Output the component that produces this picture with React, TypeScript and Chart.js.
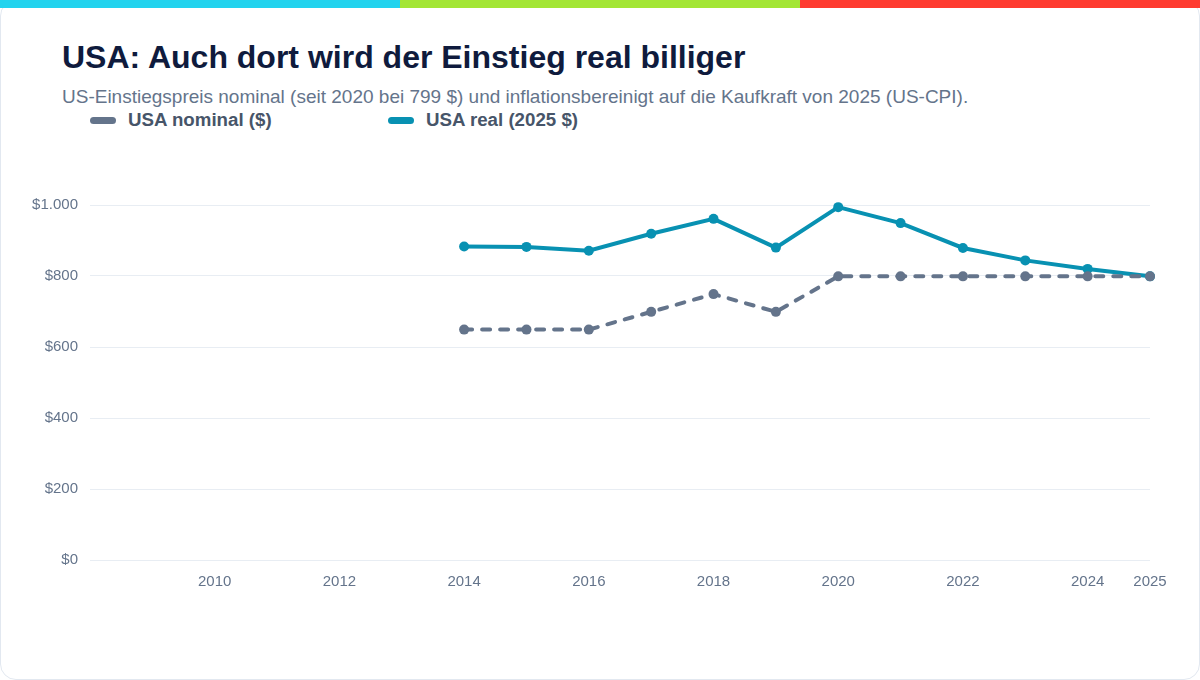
import { useEffect, useRef } from "react"
import { Chart, registerables } from "chart.js"

Chart.register(...registerables)

const years = [2014, 2015, 2016, 2017, 2018, 2019, 2020, 2021, 2022, 2023, 2024, 2025]
const nominalUsd = [649, 649, 649, 699, 749, 699, 799, 799, 799, 799, 799, 799]
const realUsd2025 = [883, 882, 871, 919, 961, 880, 994, 949, 879, 844, 820, 799]
const xTickYears = [2010, 2012, 2014, 2016, 2018, 2020, 2022, 2024, 2025]

const FONT = '"Liberation Sans", Arial, Helvetica, sans-serif'
const NOMINAL_COLOR = "#64748b"
const REAL_COLOR = "#0891b2"

function PriceChart() {
  const canvasRef = useRef<HTMLCanvasElement>(null)
  const chartRef = useRef<Chart | null>(null)

  useEffect(() => {
    if (!canvasRef.current) return
    const ctx = canvasRef.current.getContext("2d")
    if (!ctx) return

    chartRef.current = new Chart(ctx, {
      type: "line",
      data: {
        datasets: [
          {
            label: "USA nominal ($)",
            data: years.map((x, i) => ({ x, y: nominalUsd[i] })),
            borderColor: NOMINAL_COLOR,
            backgroundColor: NOMINAL_COLOR,
            borderWidth: 4,
            borderDash: [8, 10],
            borderCapStyle: "round",
            pointRadius: 5,
            pointBorderWidth: 0,
            tension: 0,
            clip: false,
          },
          {
            label: "USA real (2025 $)",
            data: years.map((x, i) => ({ x, y: realUsd2025[i] })),
            borderColor: REAL_COLOR,
            backgroundColor: REAL_COLOR,
            borderWidth: 4,
            pointRadius: 5,
            pointBorderWidth: 0,
            tension: 0,
            clip: false,
          },
        ],
      },
      options: {
        animation: false,
        responsive: true,
        maintainAspectRatio: false,
        layout: { padding: { top: 9, right: 30, left: 0, bottom: 0 } },
        plugins: {
          legend: { display: false },
          tooltip: { enabled: false },
        },
        scales: {
          x: {
            type: "linear",
            min: 2008,
            max: 2025,
            grid: { display: false },
            border: { display: false },
            afterBuildTicks: (axis: any) => {
              axis.ticks = xTickYears.map((value) => ({ value }))
            },
            afterFit: (axis: any) => {
              axis.height = 40
            },
            ticks: {
              color: "#64748b",
              font: { family: FONT, size: 15 },
              padding: 5,
              maxRotation: 0,
              autoSkip: false,
              callback: (v: any) => String(v),
            },
          },
          y: {
            min: 0,
            max: 1000,
            grid: { color: "#e8edf3", lineWidth: 1, drawTicks: false },
            border: { display: false },
            afterFit: (axis: any) => {
              axis.width = 70
            },
            ticks: {
              stepSize: 200,
              color: "#64748b",
              font: { family: FONT, size: 15 },
              padding: 12,
              callback: (v: any) => "$" + Number(v).toLocaleString("de-DE"),
            },
          },
        },
      },
    })

    return () => {
      chartRef.current?.destroy()
      chartRef.current = null
    }
  }, [])

  return <canvas ref={canvasRef} />
}

function LegendItem({ color, label, left }: { color: string; label: string; left: number }) {
  return (
    <div style={{ position: "absolute", left, top: 109, display: "flex", alignItems: "center", height: 22 }}>
      <span style={{ width: 26, height: 7, borderRadius: 4, background: color, marginRight: 12 }} />
      <span style={{ fontWeight: 700, fontSize: 18.7, color: "#475569" }}>{label}</span>
    </div>
  )
}

export default function App() {
  useEffect(() => {
    document.body.style.margin = "0"
  }, [])

  return (
    <div style={{ position: "relative", width: 1200, height: 680, fontFamily: FONT, background: "#fff", overflow: "hidden" }}>
      <div
        style={{
          position: "absolute",
          left: 0,
          top: 0,
          width: 1198,
          height: 678,
          border: "1px solid #e2e8f0",
          borderRadius: 16,
        }}
      />
      <div style={{ position: "absolute", left: 0, top: 0, width: 1200, height: 8, display: "flex", zIndex: 2 }}>
        <div style={{ flex: 1, background: "#22d3ee" }} />
        <div style={{ flex: 1, background: "#a3e635" }} />
        <div style={{ flex: 1, background: "#ff3b30" }} />
      </div>
      <div style={{ position: "absolute", left: 62, top: 39, fontSize: 32, fontWeight: 700, color: "#0f1b3d", whiteSpace: "nowrap" }}>
        USA: Auch dort wird der Einstieg real billiger
      </div>
      <div style={{ position: "absolute", left: 62, top: 86, fontSize: 19, color: "#64748b", whiteSpace: "nowrap" }}>
        US-Einstiegspreis nominal (seit 2020 bei 799 $) und inflationsbereinigt auf die Kaufkraft von 2025 (US-CPI).
      </div>
      <LegendItem color={NOMINAL_COLOR} label="USA nominal ($)" left={90} />
      <LegendItem color={REAL_COLOR} label="USA real (2025 $)" left={388} />
      <div style={{ position: "absolute", left: 20, top: 184, width: 1160, height: 416 }}>
        <PriceChart />
      </div>
    </div>
  )
}
